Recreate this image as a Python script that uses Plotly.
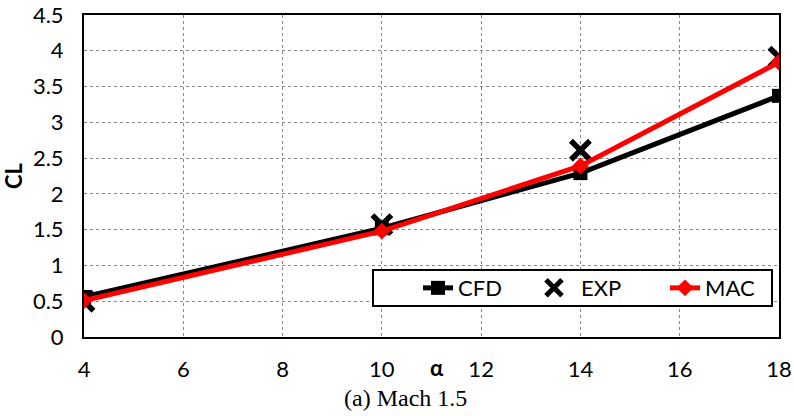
import plotly.graph_objects as go

alpha = [4, 10, 14, 18]
cfd = [0.56, 1.52, 2.29, 3.37]
exp_ = [0.50, 1.57, 2.61, 3.91]
mac = [0.51, 1.48, 2.39, 3.84]
x_ticks = [4, 6, 8, 10, 12, 14, 16, 18]
y_ticks = [0, 0.5, 1, 1.5, 2, 2.5, 3, 3.5, 4, 4.5]

FONT = "Lato"

fig = go.Figure()
fig.add_trace(go.Scatter(x=alpha, y=cfd, name="CFD", mode="lines+markers", legend="legend",
                         line=dict(color="black", width=5),
                         marker=dict(symbol="square", size=14, color="black")))
fig.add_trace(go.Scatter(x=alpha, y=exp_, name="EXP", mode="markers", legend="legend2",
                         marker=dict(symbol="x-thin", size=19, color="black",
                                     line=dict(width=5.5, color="black"))))
fig.add_trace(go.Scatter(x=alpha, y=mac, name="MAC", mode="lines+markers", legend="legend3",
                         line=dict(color="#ff0000", width=5),
                         marker=dict(symbol="diamond", size=13, color="#ff0000")))

def leg(x, iw=30):
    return dict(orientation="h", x=x, y=0.152, xanchor="left", yanchor="middle",
                borderwidth=0, bgcolor="rgba(0,0,0,0)", itemwidth=iw,
                font=dict(family=FONT, size=22))

fig.update_layout(
    width=794, height=416, autosize=False,
    margin=dict(l=84, r=15, t=15, b=79, autoexpand=False),
    paper_bgcolor="white", plot_bgcolor="white",
    font=dict(family=FONT, size=22, color="black"),
    showlegend=True,
    legend=leg(0.4806), legend2=leg(0.6374, 44), legend3=leg(0.8360),
    shapes=[dict(type="rect", xref="paper", yref="paper",
                 x0=0.4158, x1=0.9899, y0=0.0963, y1=0.208,
                 line=dict(color="black", width=2), fillcolor="white", layer="above")],
)
fig.update_xaxes(range=[4, 18], tickvals=x_ticks, showgrid=True, automargin=False,
                 tickfont=dict(family=FONT, size=22),
                 gridcolor="#888888", griddash="dot", gridwidth=1,
                 showline=True, linecolor="black", linewidth=2, mirror=True,
                 ticks="", ticklabelstandoff=12, zeroline=False)
fig.update_yaxes(range=[0, 4.5], tickvals=y_ticks, showgrid=True, automargin=False,
                 tickfont=dict(family=FONT, size=22),
                 gridcolor="#888888", griddash="dot", gridwidth=1,
                 showline=True, linecolor="black", linewidth=2, mirror=True,
                 ticks="", ticklabelstandoff=14, zeroline=False,
                 title=dict(text="<b>CL</b>", standoff=4, font=dict(size=22)))

fig.add_annotation(text="<b>α</b>", x=11.12, y=-0.096, xref="x", yref="paper",
                   showarrow=False, font=dict(family=FONT, size=22), yanchor="middle")
fig.add_annotation(text="(a) Mach 1.5", x=0.463, y=-0.19, xref="paper", yref="paper",
                   showarrow=False, yanchor="middle",
                   font=dict(family="Liberation Serif", size=24))

fig.write_html("out.html", config=dict(responsive=False))
